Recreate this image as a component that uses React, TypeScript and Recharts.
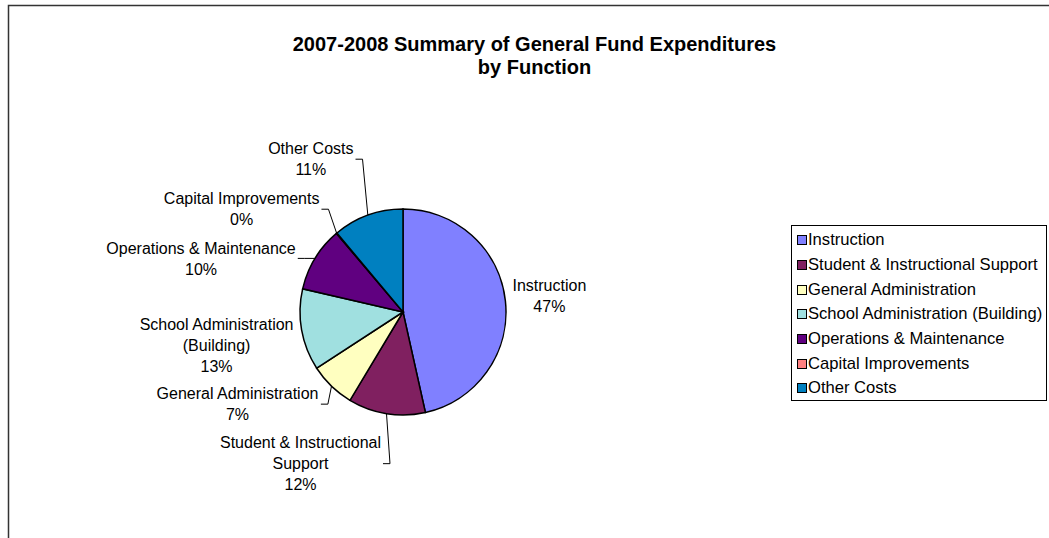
import { Legend, Pie, PieChart, Cell } from "recharts";

const CATEGORIES = [
  "Instruction",
  "Student & Instructional Support",
  "General Administration",
  "School Administration (Building)",
  "Operations & Maintenance",
  "Capital Improvements",
  "Other Costs",
];

// share of general fund expenditures, in percent
const SHARES = [46.51, 12.1, 7.2, 12.8, 10.2, 0.1, 11.09];

const COLORS = ["#8080FF", "#802060", "#FFFFC0", "#A0E0E0", "#600080", "#FF8080", "#0080C0"];

const TITLE_LINES = ["2007-2008 Summary of General Fund Expenditures", "by Function"];

// where each data label sits, relative to the point where its slice meets the rim
const LABEL_OFFSETS = [
  { dx: 44, dy: -5, leader: false },
  { dx: -86, dy: 50, leader: true },
  { dx: -94, dy: 18, leader: true },
  { dx: -85, dy: 15, leader: false },
  { dx: -114, dy: 0, leader: true },
  { dx: -95, dy: -24, leader: true },
  { dx: -57, dy: -56, leader: true },
];

const FONT = "'Liberation Sans', Arial, sans-serif";
const LABEL_FONT = `16px ${FONT}`;
const LINE_H = 21;
const WRAP_AT = 200;

const data = CATEGORIES.map((name, i) => ({ name, value: SHARES[i] }));
const total = SHARES.reduce((s, v) => s + v, 0);

const ctx = typeof document !== "undefined" ? document.createElement("canvas").getContext("2d") : null;
const textWidth = (s: string) => {
  if (!ctx) return s.length * 8;
  ctx.font = LABEL_FONT;
  return ctx.measureText(s).width;
};

function wrap(text: string, max: number) {
  const out: string[] = [];
  let cur = "";
  for (const w of text.split(" ")) {
    const next = cur ? `${cur} ${w}` : w;
    if (cur && textWidth(next) > max) {
      out.push(cur);
      cur = w;
    } else cur = next;
  }
  if (cur) out.push(cur);
  return out;
}

const RAD = Math.PI / 180;

function renderLabel(props: any) {
  const { cx, cy, midAngle, outerRadius, index } = props;
  const o = LABEL_OFFSETS[index];
  const ex = cx + outerRadius * Math.cos(-midAngle * RAD);
  const ey = cy + outerRadius * Math.sin(-midAngle * RAD);
  const bx = ex + o.dx;
  const by = ey + o.dy;
  const pct = props.percent ?? SHARES[index] / total;
  const lines = [...wrap(CATEGORIES[index], WRAP_AT), `${Math.round(pct * 100)}%`];
  const w = Math.max(...lines.map(textWidth));
  const sx = bx + w / 2 + 2;
  return (
    <g key={`lbl-${index}`}>
      {o.leader && (
        <polyline
          points={`${sx},${by} ${sx + 7},${by} ${ex},${ey}`}
          fill="none"
          stroke="#000"
          strokeWidth={1}
        />
      )}
      <text textAnchor="middle" fontFamily={FONT} fontSize={16} fill="#000">
        {lines.map((l, i) => (
          <tspan key={i} x={bx} y={by + (i - (lines.length - 1) / 2) * LINE_H + 5.7}>
            {l}
          </tspan>
        ))}
      </text>
    </g>
  );
}

function LegendBox({ payload }: any) {
  return (
    <div
      style={{
        boxSizing: "border-box",
        width: 256,
        height: 176,
        border: "1px solid #000",
        background: "#fff",
        padding: "2px 0 0 5px",
        fontFamily: FONT,
        fontSize: 16.6,
        color: "#000",
      }}
    >
      {(payload ?? []).map((p: any, i: number) => (
        <div key={i} style={{ display: "flex", alignItems: "center", height: 24.7, whiteSpace: "nowrap" }}>
          <span
            style={{
              width: 8,
              height: 8,
              border: "1px solid #000",
              background: COLORS[i],
              marginRight: 1,
              flexShrink: 0,
            }}
          />
          <span>{CATEGORIES[i]}</span>
        </div>
      ))}
    </div>
  );
}

export default function App() {
  return (
    <div style={{ position: "absolute", left: 0, top: 0, width: 1049, height: 538, background: "#fff", overflow: "hidden" }}>
      <div style={{ position: "absolute", left: 0, top: 0 }}>
        <PieChart width={1049} height={538} margin={{ top: 0, right: 0, bottom: 0, left: 0 }}>
          <Pie
            data={data}
            dataKey="value"
            nameKey="name"
            cx={403}
            cy={312}
            outerRadius={103}
            startAngle={90}
            endAngle={-270}
            stroke="#000"
            strokeWidth={1.5}
            labelLine={false}
            label={renderLabel}
            isAnimationActive={false}
          >
            {data.map((_, i) => (
              <Cell key={i} fill={COLORS[i]} />
            ))}
          </Pie>
          <Legend
            layout="vertical"
            align="right"
            verticalAlign="middle"
            content={LegendBox}
            wrapperStyle={{ left: 791, top: 225, width: 256, right: "auto", bottom: "auto" }}
          />
        </PieChart>
      </div>
      <svg width={1049} height={538} style={{ position: "absolute", left: 0, top: 0, pointerEvents: "none" }}>
        <polyline points="8.5,538 8.5,5.5 1049,5.5" fill="none" stroke="#333" strokeWidth={1.5} />
        {TITLE_LINES.map((t, i) => (
          <text
            key={i}
            x={534.5}
            y={50.5 + i * 23.5}
            textAnchor="middle"
            fontFamily={FONT}
            fontSize={20}
            fontWeight="bold"
            fill="#000"
          >
            {t}
          </text>
        ))}
      </svg>
    </div>
  );
}
